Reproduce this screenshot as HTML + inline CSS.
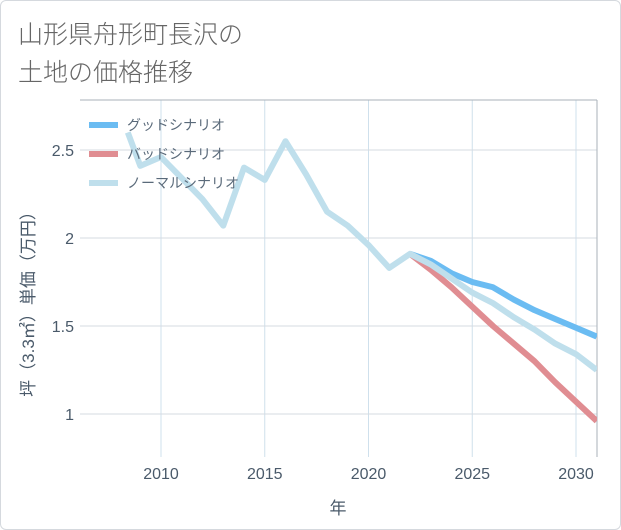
<!DOCTYPE html>
<html><head><meta charset="utf-8"><style>
body{margin:0;background:#fff;font-family:"Liberation Sans","Noto Sans CJK JP",sans-serif}
#card{position:absolute;left:0;top:0;width:619px;height:528px;border:1px solid #d5d9de;border-radius:6px;background:#fff}
#title{position:absolute;left:18px;top:14px;font-size:25px;line-height:38px;color:#666;font-family:"Noto Sans CJK JP",sans-serif;font-weight:300}
svg{position:absolute;left:0;top:0}
</style></head><body>
<div id="card"></div>
<div id="title">山形県舟形町長沢の<br>土地の価格推移</div>
<svg id="chart" width="621" height="530"></svg>
<script>
const normalYears=[2008.4,2009,2010,2011,2012,2013,2014,2015,2016,2017,2018,2019,2020,2021,2022,2023,2024,2025,2026,2027,2028,2029,2030,2031];
const normalVals=[2.60,2.41,2.46,2.34,2.22,2.07,2.40,2.33,2.55,2.36,2.15,2.07,1.96,1.83,1.91,1.85,1.77,1.69,1.63,1.55,1.48,1.40,1.34,1.25];
const futureYears=[2022,2023,2024,2025,2026,2027,2028,2029,2030,2031];
const goodVals=[1.91,1.87,1.80,1.75,1.72,1.65,1.59,1.54,1.49,1.44];
const badVals=[1.91,1.82,1.72,1.61,1.50,1.40,1.30,1.18,1.07,0.96];
const xTicks=[2010,2015,2020,2025,2030];
const yTicks=[1,1.5,2,2.5];
const yTickLabels=["1","1.5","2","2.5"];
const L=80,R=597,T=100,B=457;
const x=v=>161+(v-2010)*20.75;
const y=v=>150-(v-2.5)*176;
const svg=document.getElementById('chart');
const NS='http://www.w3.org/2000/svg';
function mk(t,a,p){const e=document.createElementNS(NS,t);for(const k in a)e.setAttribute(k,a[k]);(p||svg).appendChild(e);return e;}
const defs=mk('defs',{});const cp=mk('clipPath',{id:'c'},defs);mk('rect',{x:L,y:T,width:R-L,height:B-T},cp);
xTicks.forEach(t=>{
 const g=mk('line',{x1:x(t),x2:x(t),y1:T,y2:B,stroke:'#cfe0ec','stroke-width':1});
 
 const tx=mk('text',{x:x(t),y:479,'text-anchor':'middle','font-size':16,fill:'#4a5a6a'});tx.textContent=t;
 
});
yTicks.forEach((t,i)=>{
 const g=mk('line',{x1:L,x2:R,y1:y(t),y2:y(t),stroke:'#d5dbe2','stroke-width':1});
 
 const tx=mk('text',{x:74,y:y(t)+6,'text-anchor':'end','font-size':16,fill:'#4a5a6a'});tx.textContent=yTickLabels[i];
 
});
mk('line',{x1:L,x2:R,y1:T,y2:T,stroke:'#aab2ba'});
mk('line',{x1:R,x2:R,y1:T,y2:B,stroke:'#aab2ba'});
function series(xs,vs,col,name){const p=mk('polyline',{points:xs.map((a,i)=>x(a)+','+y(vs[i])).join(' '),fill:'none',stroke:col,'stroke-width':6,'stroke-linejoin':'round','clip-path':'url(#c)'});
 }
series(futureYears,badVals,'#e08d92','bad-scenario-line');
series(futureYears,goodVals,'#6bbcf2','good-scenario-line');
series(normalYears,normalVals,'#bfdfec','normal-scenario-line');
const leg=[['グッドシナリオ','#6bbcf2','legend-good'],['バッドシナリオ','#e08d92','legend-bad'],['ノーマルシナリオ','#bfdfec','legend-normal']];
leg.forEach((l,i)=>{const g=mk('g',{});
 mk('line',{x1:89,x2:118,y1:125+i*29,y2:125+i*29,stroke:l[1],'stroke-width':6},g);
 const t=mk('text',{x:127,y:130+i*29,'font-size':14,fill:'#5a6a7a'},g);t.textContent=l[0];});
const xt=mk('text',{x:338,y:514,'text-anchor':'middle','font-size':17,fill:'#4a5a6a'});xt.textContent='年';

const yt=mk('text',{x:0,y:0,'text-anchor':'middle','font-size':17,fill:'#4a5a6a',transform:'translate(34,300) rotate(-90)'});yt.textContent='坪（3.3㎡）単価（万円）';

</script>
</body></html>
